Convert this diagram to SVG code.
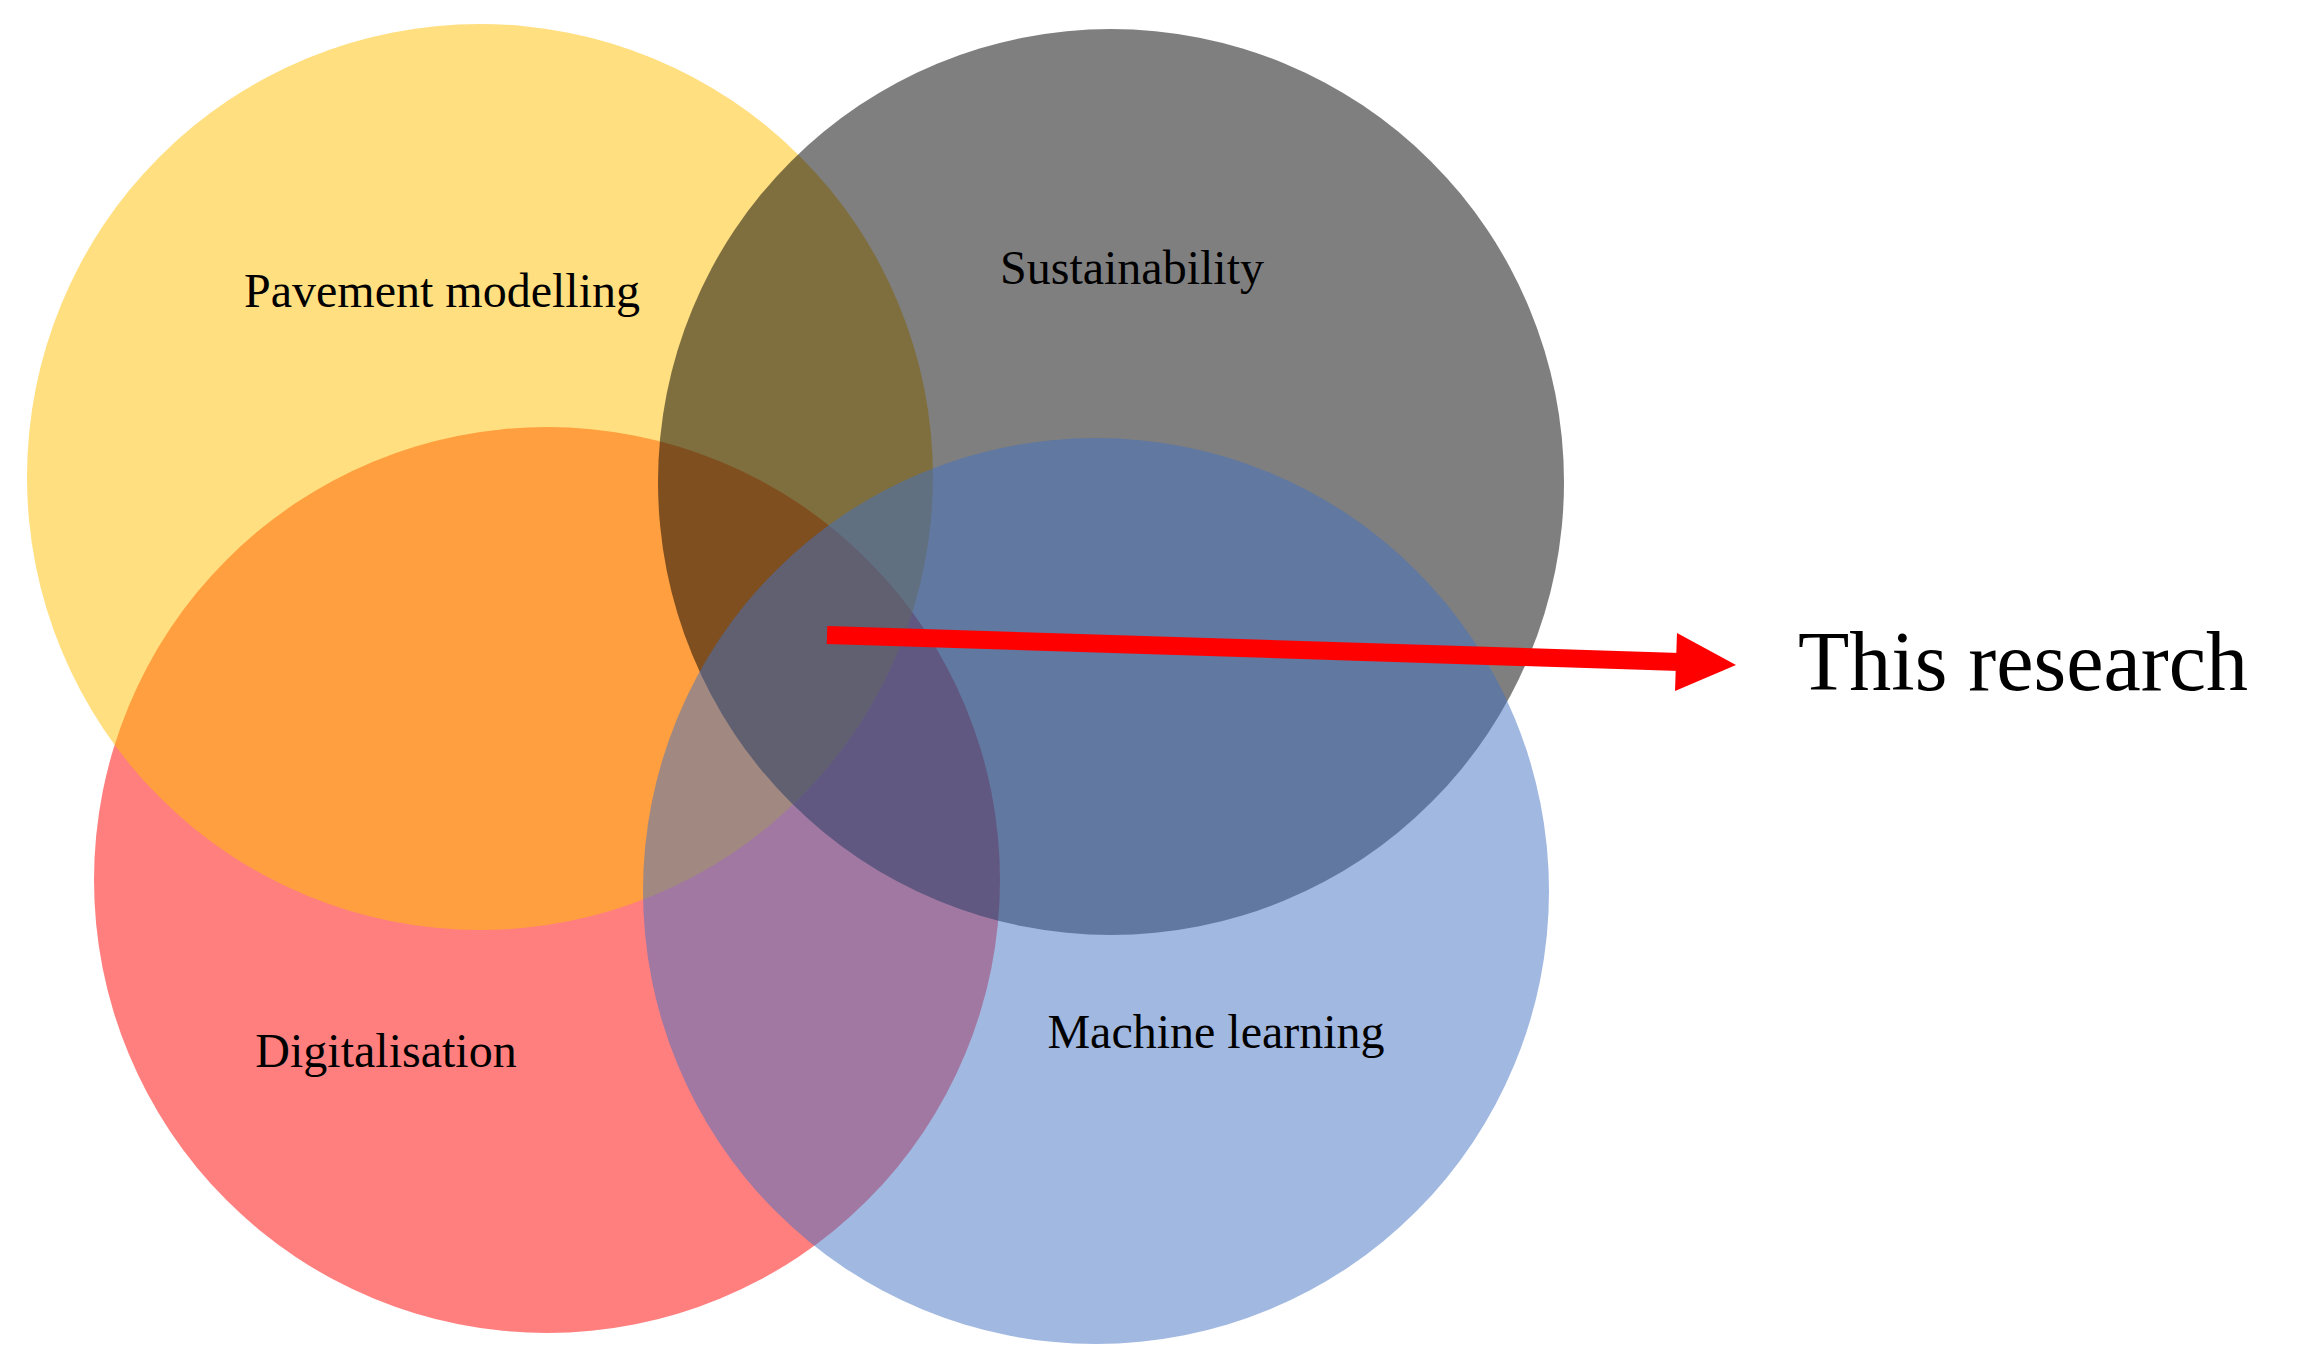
<svg xmlns="http://www.w3.org/2000/svg" width="2302" height="1362" viewBox="0 0 2302 1362">
<style>
.lbl{font-family:"Liberation Serif","DejaVu Serif",serif;font-size:48px;fill:#000;text-anchor:middle}
.c{fill-opacity:0.5}
</style>
<rect width="2302" height="1362" fill="#fff"/>
<g id="digitalisation"><circle class="c" cx="547" cy="880" r="453" fill="#FF0000"/><text class="lbl" x="386" y="1067">Digitalisation</text></g>
<g id="pavement"><circle class="c" cx="480" cy="477" r="453" fill="#FFC000"/></g>
<g id="sustainability"><circle class="c" cx="1111" cy="482" r="453" fill="#000000"/></g>
<g id="ml"><circle class="c" cx="1096" cy="891" r="453" fill="#4472C4"/></g>
<text class="lbl" x="442" y="307">Pavement modelling</text>
<text class="lbl" x="1132" y="284">Sustainability</text>
<text class="lbl" x="1216" y="1048">Machine learning</text>
<g id="connectors">
<line x1="827" y1="635" x2="1680" y2="662" stroke="#FF0000" stroke-width="18"/>
<polygon points="1736,665 1677,633 1675,691" fill="#FF0000"/>
</g>
<g id="this-research"><text x="1798" y="690" font-family="Liberation Serif,DejaVu Serif,serif" font-size="84">This research</text></g>
</svg>
